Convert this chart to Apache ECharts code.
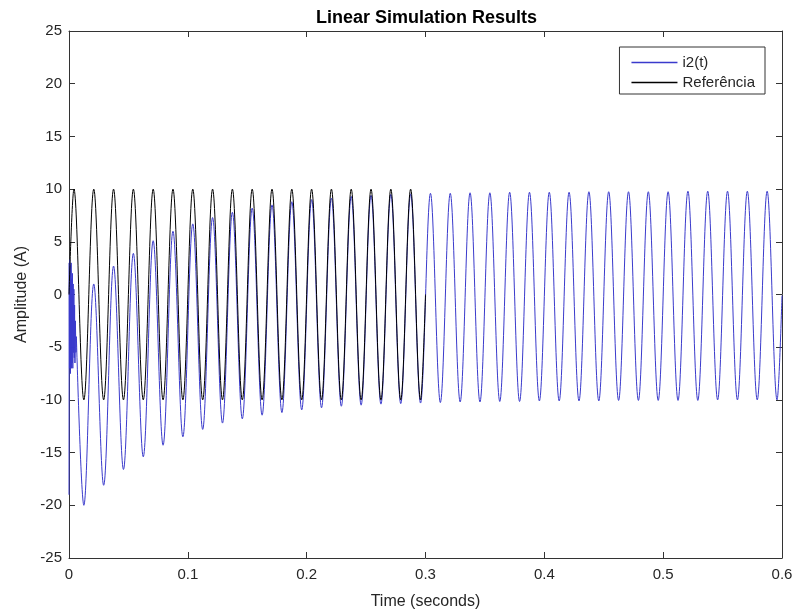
<!DOCTYPE html>
<html>
<head>
<meta charset="utf-8">
<title>Linear Simulation Results</title>
<script src="https://cdn.jsdelivr.net/npm/echarts@6/dist/echarts.min.js"></script>
<style>
  html, body { margin: 0; padding: 0; background: #fff; }
  #chart { width: 795px; height: 615px; }
</style>
</head>
<body>
<div id="chart"></div>
<script>
// periodo da onda (60 Hz), lido pelos cruzamentos no eixo do tempo
const PERIOD = 1 / 60;

// i2(t): oscilacao rapida do inicio (t, valor)
const i2Transient = [
  [0, -19], [0.0002, 3.0], [0.0004, -7.0], [0.0006, 3.3], [0.0008, -6.5],
  [0.0010, 2.8], [0.0012, -7.5], [0.0014, 2.2], [0.0016, -6.0], [0.0018, 3.0],
  [0.0020, -7.0], [0.0023, 1.5], [0.0026, -6.5], [0.0029, 2.0], [0.0032, -7.0],
  [0.0035, 1.0], [0.0038, -5.5], [0.0041, 0.5], [0.0044, -6.0], [0.0047, -1.0],
  [0.0050, -6.5], [0.0054, -2.5], [0.0058, -5.5], [0.0062, -4.0]
];

// i2(t): vale de cada ciclo (ciclo 0..35)
const i2Troughs = [
  -20.0, -18.1, -16.6, -15.4, -14.3, -13.5, -12.8, -12.2, -11.8, -11.45,
  -11.2, -10.95, -10.75, -10.6, -10.5, -10.4, -10.35, -10.3, -10.25, -10.2,
  -10.2, -10.15, -10.15, -10.1, -10.1, -10.1, -10.1, -10.05, -10.05, -10.05,
  -10.05, -10.05, -10.0, -10.0, -10.0, -10.0
];
// i2(t): crista de cada ciclo (ciclo 1..35)
const i2Peaks = [
  1.0, 2.7, 3.9, 5.1, 6.0, 6.7, 7.3, 7.8, 8.2, 8.5,
  8.8, 9.0, 9.15, 9.3, 9.4, 9.5, 9.55, 9.6, 9.6, 9.65,
  9.65, 9.7, 9.7, 9.7, 9.7, 9.75, 9.75, 9.75, 9.75, 9.75,
  9.8, 9.8, 9.8, 9.8, 9.8
];
const i2EndValue = -0.1;

// Referencia: cristas e vales dos 18 ciclos (0 a 0.3 s)
const refPeaks = [10, 10, 10, 10, 10, 10, 10, 10, 10, 10, 10, 10, 10, 10, 10, 10, 10, 10];
const refTroughs = [-10, -10, -10, -10, -10, -10, -10, -10, -10, -10, -10, -10, -10, -10, -10, -10, -10, -10];

const xTicks = [0, 0.1, 0.2, 0.3, 0.4, 0.5, 0.6];
const yTicks = [-25, -20, -15, -10, -5, 0, 5, 10, 15, 20, 25];

// monta os pontos da onda a partir das cristas e vales
function buildI2() {
  const pts = [i2Transient[i2Transient.length - 1]];
  for (let k = 0; k < i2Troughs.length; k++) {
    pts.push([(k + 0.75) * PERIOD, i2Troughs[k]]);
    if (k < i2Peaks.length) pts.push([(k + 1.25) * PERIOD, i2Peaks[k]]);
  }
  pts.push([xTicks[xTicks.length - 1], i2EndValue]);
  return pts;
}

function buildRef() {
  const pts = [[0, 0]];
  for (let k = 0; k < refPeaks.length; k++) {
    pts.push([(k + 0.25) * PERIOD, refPeaks[k]]);
    pts.push([(k + 0.75) * PERIOD, refTroughs[k]]);
  }
  pts.push([refPeaks.length * PERIOD, 0]);
  return pts;
}

const FONT = '"Liberation Sans", Arial, Helvetica, sans-serif';
const AXIS_COLOR = '#333333';
const TEXT_COLOR = '#262626';
const BLUE = '#3a3acc';

const chart = echarts.init(document.getElementById('chart'), null, { renderer: 'canvas' });

// linha e tracos internos comuns aos quatro lados da caixa
const axisLine = { show: true, onZero: false, lineStyle: { color: AXIS_COLOR, width: 1 } };
const axisTick = { show: true, inside: true, length: 6, lineStyle: { color: AXIS_COLOR } };

const option = {
  backgroundColor: '#ffffff',
  animation: false,
  textStyle: { fontFamily: FONT },
  title: {
    text: 'Linear Simulation Results',
    left: 316,
    top: 9,
    padding: 0,
    textStyle: { fontFamily: FONT, fontSize: 18, fontWeight: 'bold', color: '#000' }
  },
  legend: {
    orient: 'vertical',
    right: 30,
    top: 47,
    padding: [8, 10, 4, 12],
    icon: 'rect',
    itemWidth: 46,
    itemHeight: 1.5,
    itemGap: 5,
    borderColor: AXIS_COLOR,
    borderWidth: 1,
    backgroundColor: '#fff',
    textStyle: { fontFamily: FONT, fontSize: 15, color: TEXT_COLOR },
    data: ['i2(t)', 'Referência']
  },
  grid: {
    left: 69, right: 13, top: 31, bottom: 57,
    containLabel: false,
    outerBoundsMode: 'none'
  },
  xAxis: [
    {
      type: 'value',
      min: xTicks[0],
      max: xTicks[xTicks.length - 1],
      interval: 0.1,
      name: 'Time (seconds)',
      nameLocation: 'middle',
      nameGap: 36,
      nameTextStyle: { fontFamily: FONT, fontSize: 16, color: TEXT_COLOR },
      axisLine: axisLine,
      axisTick: axisTick,
      axisLabel: {
        margin: 9,
        fontFamily: FONT,
        fontSize: 15,
        color: TEXT_COLOR,
        formatter: v => (v === 0 ? '0' : String(+v.toFixed(1)))
      },
      splitLine: { show: false }
    },
    {
      type: 'value',
      position: 'top',
      min: xTicks[0],
      max: xTicks[xTicks.length - 1],
      interval: 0.1,
      axisLine: axisLine,
      axisTick: axisTick,
      axisLabel: { show: false },
      splitLine: { show: false }
    }
  ],
  yAxis: [
    {
      type: 'value',
      min: yTicks[0],
      max: yTicks[yTicks.length - 1],
      interval: 5,
      name: 'Amplitude (A)',
      nameLocation: 'middle',
      nameGap: 38,
      nameTextStyle: { fontFamily: FONT, fontSize: 16, color: TEXT_COLOR },
      axisLine: axisLine,
      axisTick: axisTick,
      axisLabel: { margin: 7, fontFamily: FONT, fontSize: 15, color: TEXT_COLOR },
      splitLine: { show: false }
    },
    {
      type: 'value',
      position: 'right',
      min: yTicks[0],
      max: yTicks[yTicks.length - 1],
      interval: 5,
      axisLine: axisLine,
      axisTick: axisTick,
      axisLabel: { show: false },
      splitLine: { show: false }
    }
  ],
  series: [
    {
      name: 'i2(t)',
      type: 'line',
      data: i2Transient,
      symbol: 'none',
      color: BLUE,
      lineStyle: { color: BLUE, width: 1 },
      z: 2
    },
    {
      name: 'i2(t)',
      type: 'line',
      data: buildI2(),
      symbol: 'none',
      smooth: 0.36,
      color: BLUE,
      lineStyle: { color: BLUE, width: 1 },
      z: 2
    },
    {
      name: 'Referência',
      type: 'line',
      data: buildRef(),
      symbol: 'none',
      smooth: 0.36,
      color: '#000000',
      lineStyle: { color: '#000000', width: 1 },
      z: 3
    }
  ]
};

chart.setOption(option);
</script>
</body>
</html>
